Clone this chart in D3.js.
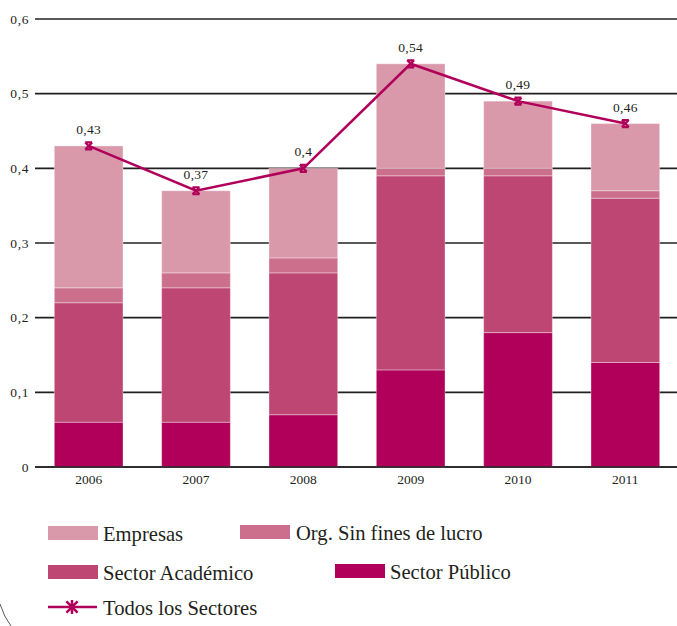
<!DOCTYPE html>
<html>
<head>
<meta charset="utf-8">
<script src="https://cdn.jsdelivr.net/npm/d3@7"></script>
<style>
  html, body { margin: 0; padding: 0; background: #fff; }
</style>
</head>
<body>
<svg id="chart" width="677" height="626"></svg>
<script>
// Years on the x axis
const years = ["2006", "2007", "2008", "2009", "2010", "2011"];

// Stacked series (bottom to top)
const sectorPublico   = [0.06, 0.06, 0.07, 0.13, 0.18, 0.14];
const sectorAcademico = [0.16, 0.18, 0.19, 0.26, 0.21, 0.22];
const orgSinFines     = [0.02, 0.02, 0.02, 0.01, 0.01, 0.01];
const empresas        = [0.19, 0.11, 0.12, 0.14, 0.09, 0.09];

// Total across sectors (line series, labelled)
const todosSectores = [0.43, 0.37, 0.40, 0.54, 0.49, 0.46];
const totalLabels   = ["0,43", "0,37", "0,4", "0,54", "0,49", "0,46"];

// Y axis ticks
const yTicks = [0, 0.1, 0.2, 0.3, 0.4, 0.5, 0.6];
const yTickLabels = ["0", "0,1", "0,2", "0,3", "0,4", "0,5", "0,6"];

const seriesNames = ["Sector Público", "Sector Académico", "Org. Sin fines de lucro", "Empresas"];
const seriesValues = [sectorPublico, sectorAcademico, orgSinFines, empresas];
const colors = {
  "Sector Público": "#b0005a",
  "Sector Académico": "#be4673",
  "Org. Sin fines de lucro": "#cc6f8c",
  "Empresas": "#d999ab"
};
const lineColor = "#b0005a";
const FONT = '"Liberation Serif"';
const INK = "#231f20";

const svg = d3.select("#chart");

const x = d3.scaleBand().domain(years).range([35, 679]).paddingInner(0.36).paddingOuter(0.18);
const y = d3.scaleLinear().domain([0, 0.6]).range([467, 19]);

// Table for the stack layout
const rows = years.map((yr, i) => {
  const r = { year: yr };
  seriesNames.forEach((n, k) => { r[n] = seriesValues[k][i]; });
  return r;
});
const stacked = d3.stack().keys(seriesNames)(rows);

// Horizontal gridlines (behind the bars)
svg.append("g").selectAll("line").data(yTicks).join("line")
  .attr("x1", 35).attr("x2", 677)
  .attr("y1", d => y(d)).attr("y2", d => y(d))
  .attr("stroke", INK).attr("stroke-width", 1.6);

// Y tick labels
svg.append("g").selectAll("text").data(yTicks).join("text")
  .attr("x", 29).attr("y", d => y(d) + 4.5)
  .attr("text-anchor", "end").style("font-family", FONT)
  .attr("font-size", 13.5).attr("letter-spacing", 0.6).attr("fill", INK)
  .text((d, i) => yTickLabels[i]);

// Stacked bars
svg.append("g").selectAll("g").data(stacked).join("g")
  .attr("fill", d => colors[d.key])
  .selectAll("rect").data(d => d).join("rect")
  .attr("x", d => x(d.data.year))
  .attr("width", x.bandwidth())
  .attr("y", d => y(d[1]))
  .attr("height", d => y(d[0]) - y(d[1]))
  .attr("stroke", "rgba(255,255,255,0.35)").attr("stroke-width", 1);

// Baseline over the bars
svg.append("line")
  .attr("x1", 35).attr("x2", 677).attr("y1", y(0)).attr("y2", y(0))
  .attr("stroke", INK).attr("stroke-width", 1.6);

// X labels
svg.append("g").selectAll("text").data(years).join("text")
  .attr("x", d => x(d) + x.bandwidth() / 2).attr("y", 484)
  .attr("text-anchor", "middle").style("font-family", FONT)
  .attr("font-size", 13.5).attr("fill", INK)
  .text(d => d);

// Total line
const cx = i => x(years[i]) + x.bandwidth() / 2;
svg.append("path")
  .datum(todosSectores)
  .attr("d", d3.line().x((d, i) => cx(i)).y(d => y(d)))
  .attr("fill", "none").attr("stroke", lineColor).attr("stroke-width", 2.5);

// Markers: cross with short caps
function marker(g, px, py, r) {
  g.append("path")
    .attr("d", `M${px - r},${py - r}L${px + r},${py + r}M${px - r},${py + r}L${px + r},${py - r}` +
               `M${px - r},${py - r}L${px + r},${py - r}M${px - r},${py + r}L${px + r},${py + r}`)
    .attr("stroke", lineColor).attr("stroke-width", 2.2).attr("fill", "none");
}
const mk = svg.append("g");
todosSectores.forEach((v, i) => marker(mk, cx(i), y(v), 3.5));

// Value labels
svg.append("g").selectAll("text").data(todosSectores).join("text")
  .attr("x", (d, i) => cx(i)).attr("y", d => y(d) - 12)
  .attr("text-anchor", "middle").style("font-family", FONT)
  .attr("font-size", 13.5).attr("letter-spacing", 0.3).attr("fill", INK)
  .text((d, i) => totalLabels[i]);

// Legend
const legend = svg.append("g");
const legendItems = [
  { name: "Empresas", rx: 48, ry: 526, tx: 103 },
  { name: "Org. Sin fines de lucro", rx: 240, ry: 525, tx: 296 },
  { name: "Sector Académico", rx: 48, ry: 565, tx: 103 },
  { name: "Sector Público", rx: 335, ry: 564, tx: 390 }
];
legendItems.forEach(it => {
  legend.append("rect").attr("x", it.rx).attr("y", it.ry).attr("width", 50).attr("height", 14)
    .attr("fill", colors[it.name]);
  legend.append("text").attr("x", it.tx).attr("y", it.ry + 15)
    .style("font-family", FONT).attr("font-size", 20.6).attr("fill", INK).text(it.name);
});
legend.append("line").attr("x1", 48).attr("x2", 97).attr("y1", 607).attr("y2", 607)
  .attr("stroke", lineColor).attr("stroke-width", 2.5);
const ax = 72, ay = 607, ar = 7;
legend.append("path")
  .attr("d", `M${ax},${ay - ar}L${ax},${ay + ar}M${ax - ar * 0.8},${ay - ar * 0.8}L${ax + ar * 0.8},${ay + ar * 0.8}M${ax - ar * 0.8},${ay + ar * 0.8}L${ax + ar * 0.8},${ay - ar * 0.8}`)
  .attr("stroke", lineColor).attr("stroke-width", 2.5);
legend.append("text").attr("x", 103).attr("y", 615)
  .style("font-family", FONT).attr("font-size", 20.6).attr("fill", INK).text("Todos los Sectores");

// Frame corner at lower left
svg.append("path")
  .attr("d", "M0,604 Q4,617 11,626")
  .attr("fill", "none").attr("stroke", "#555").attr("stroke-width", 1);
</script>
</body>
</html>
